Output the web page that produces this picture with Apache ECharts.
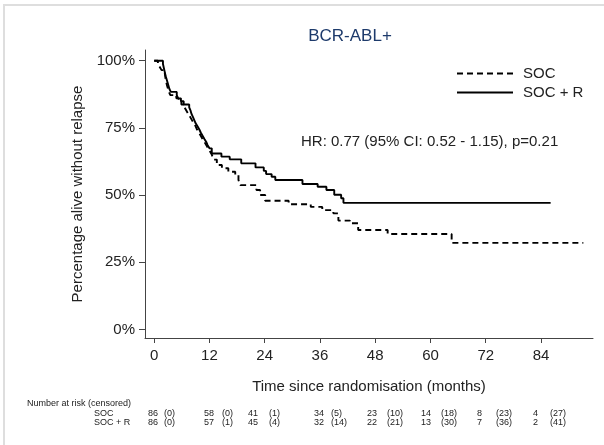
<!DOCTYPE html>
<html>
<head>
<meta charset="utf-8">
<script src="https://cdn.jsdelivr.net/npm/echarts@6/dist/echarts.min.js"></script>
<style>
  html, body { margin: 0; padding: 0; background: #fff; }
  #chart { width: 604px; height: 445px; }
</style>
</head>
<body>
<div id="chart"></div>
<script>
// Kaplan-Meier estimates: [month, survival after that month]
var socCurve = [
  [0, 1.0], [0.8, 0.988], [1.2, 0.977], [1.6, 0.965], [2.3, 0.953], [2.5, 0.930],
  [2.8, 0.907], [3.2, 0.884], [3.5, 0.872], [4.8, 0.860], [5.3, 0.849], [5.9, 0.837],
  [6.6, 0.826], [7.0, 0.814], [7.4, 0.802], [7.8, 0.791], [8.2, 0.779], [8.6, 0.767],
  [9.0, 0.756], [9.3, 0.744], [9.7, 0.733], [10.1, 0.721], [10.5, 0.709], [10.9, 0.698],
  [11.3, 0.686], [11.7, 0.674], [12.1, 0.663], [12.5, 0.651], [12.9, 0.632], [13.6, 0.612],
  [14.7, 0.600], [16.1, 0.587], [17.6, 0.574], [18.3, 0.556], [18.7, 0.537], [22.2, 0.519],
  [23.0, 0.500], [24.1, 0.479], [29.2, 0.466], [34.0, 0.456], [36.5, 0.444], [38.9, 0.432],
  [40.0, 0.405], [42.5, 0.395], [44.3, 0.370], [50.7, 0.355], [64.6, 0.322], [93.2, 0.322]
];
var socRCurve = [
  [0, 1.0], [1.9, 0.988], [2.2, 0.965], [2.5, 0.942], [2.9, 0.919], [3.3, 0.895],
  [3.6, 0.884], [4.9, 0.872], [5.2, 0.860], [5.8, 0.849], [6.4, 0.837], [7.6, 0.826],
  [7.9, 0.814], [8.1, 0.802], [8.4, 0.791], [8.7, 0.779], [9.0, 0.767], [9.4, 0.756],
  [9.8, 0.744], [10.1, 0.733], [10.5, 0.721], [10.9, 0.709], [11.3, 0.698], [11.6, 0.686],
  [12.0, 0.674], [12.5, 0.655], [14.6, 0.643], [16.4, 0.633], [18.9, 0.618], [22.0, 0.603],
  [23.8, 0.590], [24.3, 0.578], [25.5, 0.568], [26.3, 0.556], [32.2, 0.541], [35.5, 0.531],
  [37.4, 0.519], [39.1, 0.501], [40.6, 0.488], [41.1, 0.471], [86.1, 0.471]
];

var seriesNames = ['SOC', 'SOC + R'];
var monthTicks = [0, 12, 24, 36, 48, 60, 72, 84];
var pctTicks = [0, 0.25, 0.5, 0.75, 1];

// Number at risk (censored) at each month tick
var atRiskSOC = [86, 58, 41, 34, 23, 14, 8, 4];
var censoredSOC = [0, 0, 1, 5, 10, 18, 23, 27];
var atRiskSOCR = [86, 57, 45, 32, 22, 13, 7, 2];
var censoredSOCR = [0, 1, 4, 14, 21, 30, 36, 41];

var hrText = 'HR: 0.77 (95% CI: 0.52 - 1.15), p=0.21';
var FONT = '"Liberation Sans", Arial, sans-serif';
var INK = '#222';

// column positions of the risk table
var numX = [148, 204, 248, 314, 367, 421, 477, 533];
var parenX = [164, 222, 269, 331, 387, 441, 496, 550];
var rowY = [414, 423];

var graphics = [
  { type: 'rect', shape: { x: 4, y: 5, width: 620, height: 460 }, style: { fill: 'none', stroke: '#dedede', lineWidth: 2 }, silent: true },
  { type: 'text', x: 301, y: 142, style: { text: hrText, font: '15px ' + FONT, fill: INK, textVerticalAlign: 'middle' } },
  { type: 'text', x: 27, y: 404, style: { text: 'Number at risk (censored)', font: '9px ' + FONT, fill: INK, textVerticalAlign: 'middle' } },
  { type: 'text', x: 94, y: rowY[0], style: { text: seriesNames[0], font: '9px ' + FONT, fill: INK, textVerticalAlign: 'middle' } },
  { type: 'text', x: 94, y: rowY[1], style: { text: seriesNames[1], font: '9px ' + FONT, fill: INK, textVerticalAlign: 'middle' } }
];
function addRow(counts, cens, y) {
  for (var i = 0; i < counts.length; i++) {
    graphics.push({ type: 'text', x: numX[i], y: y, style: { text: String(counts[i]), font: '9px ' + FONT, fill: INK, textVerticalAlign: 'middle' } });
    graphics.push({ type: 'text', x: parenX[i], y: y, style: { text: '(' + cens[i] + ')', font: '9px ' + FONT, fill: INK, textVerticalAlign: 'middle' } });
  }
}
addRow(atRiskSOC, censoredSOC, rowY[0]);
addRow(atRiskSOCR, censoredSOCR, rowY[1]);

var chart = echarts.init(document.getElementById('chart'), null, { renderer: 'canvas' });
chart.setOption({
  animation: false,
  backgroundColor: '#fff',
  textStyle: { fontFamily: FONT },
  title: {
    text: 'BCR-ABL+',
    left: 345, top: 23,
    textAlign: 'center',
    textStyle: { fontFamily: FONT, fontSize: 17, fontWeight: 'normal', color: '#1d3a6b' }
  },
  legend: {
    orient: 'vertical',
    left: 451, top: 61,
    itemWidth: 56, itemHeight: 14, itemGap: 4,
    itemStyle: { opacity: 0 },
    textStyle: { fontFamily: FONT, fontSize: 15, color: INK, padding: [0, 0, 0, 5] },
    data: seriesNames
  },
  grid: { left: 145, right: 11, top: 50, bottom: 107 },
  xAxis: {
    type: 'value', min: -2, max: 95.3,
    name: 'Time since randomisation (months)',
    nameLocation: 'middle', nameGap: 41,
    nameTextStyle: { fontFamily: FONT, fontSize: 15, color: INK },
    splitLine: { show: false },
    axisLine: { onZero: false, lineStyle: { color: '#444', width: 1 } },
    axisTick: { length: 5, lineStyle: { color: '#444' }, customValues: monthTicks },
    axisLabel: { fontFamily: FONT, fontSize: 15, color: INK, margin: 10, customValues: monthTicks }
  },
  yAxis: {
    type: 'value', min: -0.032, max: 1.04,
    name: 'Percentage alive without relapse',
    nameLocation: 'middle', nameGap: 55,
    nameTextStyle: { fontFamily: FONT, fontSize: 15, color: INK },
    splitLine: { show: false },
    axisLine: { show: true, onZero: false, lineStyle: { color: '#444', width: 1 } },
    axisTick: { show: true, length: 6, lineStyle: { color: '#444' }, customValues: pctTicks },
    axisLabel: {
      fontFamily: FONT, fontSize: 15, color: INK, margin: 10, customValues: pctTicks,
      formatter: function (v) { return Math.round(v * 100) + '%'; }
    }
  },
  series: [
    {
      name: seriesNames[0], type: 'line', step: 'end', data: socCurve,
      symbol: 'none', showSymbol: false,
      lineStyle: { color: '#000', width: 1.9, type: [6, 4] },
      itemStyle: { color: '#000' }
    },
    {
      name: seriesNames[1], type: 'line', step: 'end', data: socRCurve,
      symbol: 'none', showSymbol: false,
      lineStyle: { color: '#000', width: 1.9, type: 'solid' },
      itemStyle: { color: '#000' }
    }
  ],
  graphic: graphics
});
</script>
</body>
</html>
